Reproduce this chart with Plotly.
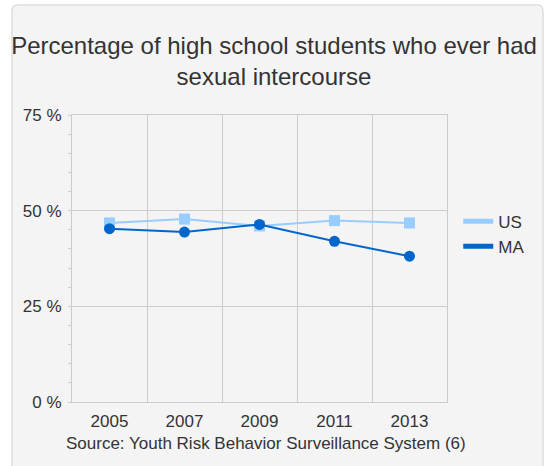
import plotly.graph_objects as go

years = ["2005", "2007", "2009", "2011", "2013"]
us_values = [46.8, 47.8, 46.0, 47.4, 46.8]
ma_values = [45.3, 44.4, 46.4, 42.0, 38.1]
series_names = ["US", "MA"]
y_ticks = [0, 25, 50, 75]
y_tick_labels = ["0 %", "25 %", "50 %", "75 %"]
title_text = "Percentage of high school students who ever had<br>sexual intercourse"
source_text = "Source: Youth Risk Behavior Surveillance System (6)"

US_COLOR = "#99ccff"
MA_COLOR = "#0066cc"
FONT = "Liberation Sans, Arial, sans-serif"
TXT = "#333333"

fig = go.Figure()
fig.add_trace(go.Scatter(x=years, y=us_values, mode="lines+markers", name=series_names[0],
                         line=dict(color=US_COLOR, width=2),
                         marker=dict(symbol="square", size=11, color=US_COLOR),
                         showlegend=False))
fig.add_trace(go.Scatter(x=years, y=ma_values, mode="lines+markers", name=series_names[1],
                         line=dict(color=MA_COLOR, width=2),
                         marker=dict(symbol="circle", size=11, color=MA_COLOR),
                         showlegend=False))
# legend-only entries (thick line swatches)
for nm, col in zip(series_names, [US_COLOR, MA_COLOR]):
    fig.add_trace(go.Scatter(x=[None], y=[None], mode="lines", name=nm,
                             line=dict(color=col, width=5), showlegend=True))

fig.update_layout(
    width=548, height=466,
    margin=dict(l=72, r=101, t=115, b=64),
    paper_bgcolor="white",
    plot_bgcolor="#f4f4f4",
    font=dict(family=FONT, size=17, color=TXT),
    title=dict(text=title_text, x=0.5, xanchor="center", y=0.885, yanchor="middle",
               font=dict(family=FONT, size=24, color=TXT)),
    legend=dict(x=1.03, y=0.585, xanchor="left", yanchor="middle",
                bgcolor="rgba(0,0,0,0)", font=dict(size=17, color=TXT),
                itemwidth=30, tracegroupgap=0),
    showlegend=True,
    shapes=[dict(type="path", xref="paper", yref="paper", layer="below",
                 path="M -0.16 -0.3 L -0.16 1.36 Q -0.16 1.383 -0.145 1.383 L 1.241 1.383 Q 1.256 1.383 1.256 1.36 L 1.256 -0.3 Z",
                 fillcolor="#f4f4f4", line=dict(color="#dddddd", width=1.5))],
    annotations=[dict(text=source_text, xref="paper", yref="paper", x=0.517, y=-0.143,
                      xanchor="center", yanchor="middle", showarrow=False,
                      font=dict(family=FONT, size=17, color=TXT))],
)
fig.update_xaxes(type="category", categoryorder="array", categoryarray=years,
                 range=[-0.5, len(years) - 0.5], tickson="boundaries",
                 showgrid=True, gridcolor="#cccccc",
                 gridwidth=1, showline=True, linecolor="#cccccc", mirror=True,
                 ticks="", ticklabelstandoff=4, zeroline=False, fixedrange=True)
fig.update_yaxes(range=[0, 75], tickmode="array", tickvals=y_ticks, ticktext=y_tick_labels,
                 showgrid=True, gridcolor="#cccccc", gridwidth=1, showline=True,
                 linecolor="#cccccc", mirror=True, ticks="", zeroline=False,
                 ticklabelstandoff=6,
                 minor=dict(dtick=5, ticks="outside", ticklen=3, tickcolor="#cccccc",
                            showgrid=False), fixedrange=True)

fig.write_html("out.html", config={"displayModeBar": False},
               post_script="document.body.style.margin='0';")
